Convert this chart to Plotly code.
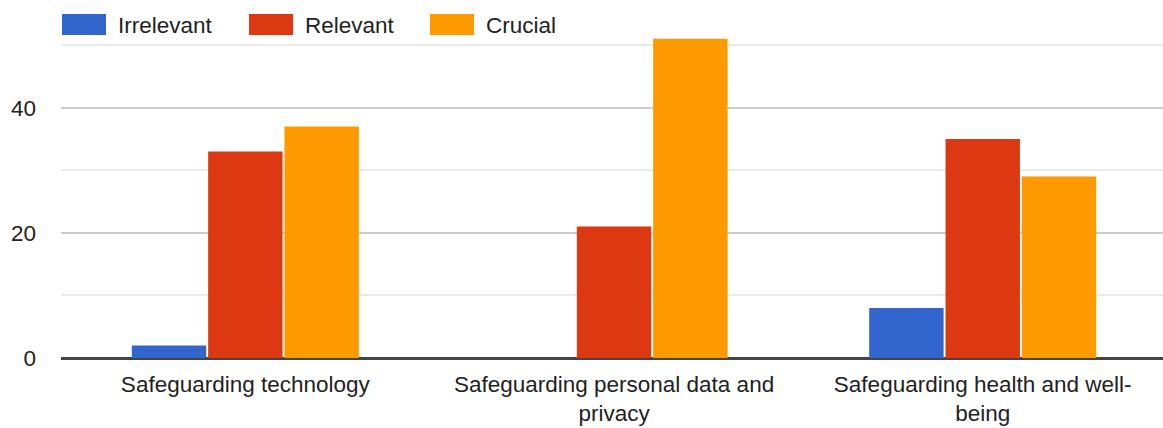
import plotly.graph_objects as go

categories = [
    "Safeguarding technology",
    "Safeguarding personal data and<br>privacy",
    "Safeguarding health and well-<br>being",
]
series_names = ["Irrelevant", "Relevant", "Crucial"]
irrelevant = [2, 0, 8]
relevant = [33, 21, 35]
crucial = [37, 51, 29]
y_ticks = [0, 20, 40]
y_minor_ticks = [10, 30, 50]

colors = ["#3366cc", "#dc3912", "#ff9900"]
font_family = "Liberation Sans, Arial, sans-serif"
text_color = "#222222"
font_size = 22.5

W, H = 1163, 428
M_L, M_R, M_T, M_B = 61, 0, 36, 70
PLOT_W = W - M_L - M_R
PLOT_H = H - M_T - M_B


def px_to_paper(x, y):
    """Convert pixel position in the page to paper coordinates."""
    return (x - M_L) / PLOT_W, (H - M_B - y) / PLOT_H


fig = go.Figure()
for name, vals, col in zip(series_names, [irrelevant, relevant, crucial], colors):
    fig.add_trace(go.Bar(
        name=name,
        x=categories,
        y=vals,
        marker=dict(color=col, line=dict(width=0)),
        showlegend=False,
    ))

# Legend row across the top: wide colour swatches followed by labels
legend_layout = [(62, 106, 117), (249, 293, 304), (430, 474, 485)]
for (sx0, sx1, tx), name, col in zip(legend_layout, series_names, colors):
    x0, y0 = px_to_paper(sx0, 35)
    x1, y1 = px_to_paper(sx1, 14)
    fig.add_shape(type="rect", xref="paper", yref="paper",
                  x0=x0, x1=x1, y0=y0, y1=y1,
                  fillcolor=col, line=dict(width=0), layer="above")
    ax, ay = px_to_paper(tx - 1, 25)
    fig.add_annotation(xref="paper", yref="paper", x=ax, y=ay,
                       text=name, showarrow=False, xanchor="left", yanchor="middle",
                       font=dict(family=font_family, size=font_size, color=text_color))

fig.update_layout(
    width=W, height=H,
    margin=dict(l=M_L, r=M_R, t=M_T, b=M_B),
    paper_bgcolor="white", plot_bgcolor="white",
    barmode="group", bargap=0.379, bargroupgap=0.025,
    font=dict(family=font_family, size=font_size, color=text_color),
    xaxis=dict(
        range=[-0.5, 2.489], showgrid=False, showline=False, zeroline=False,
        ticks="", tickfont=dict(size=font_size, color=text_color), ticklabelstandoff=10,
    ),
    yaxis=dict(
        range=[0, 51.45], tickvals=y_ticks, ticks="",
        showgrid=True, gridcolor="#cccccc", gridwidth=1.5,
        zeroline=True, zerolinecolor="#444444", zerolinewidth=2.5,
        showline=False, tickfont=dict(size=font_size, color=text_color),
        ticklabelstandoff=24,
        minor=dict(tickvals=y_minor_ticks, showgrid=True, gridcolor="#ebebeb", gridwidth=1.5),
    ),
)

fig.write_html("out.html")
